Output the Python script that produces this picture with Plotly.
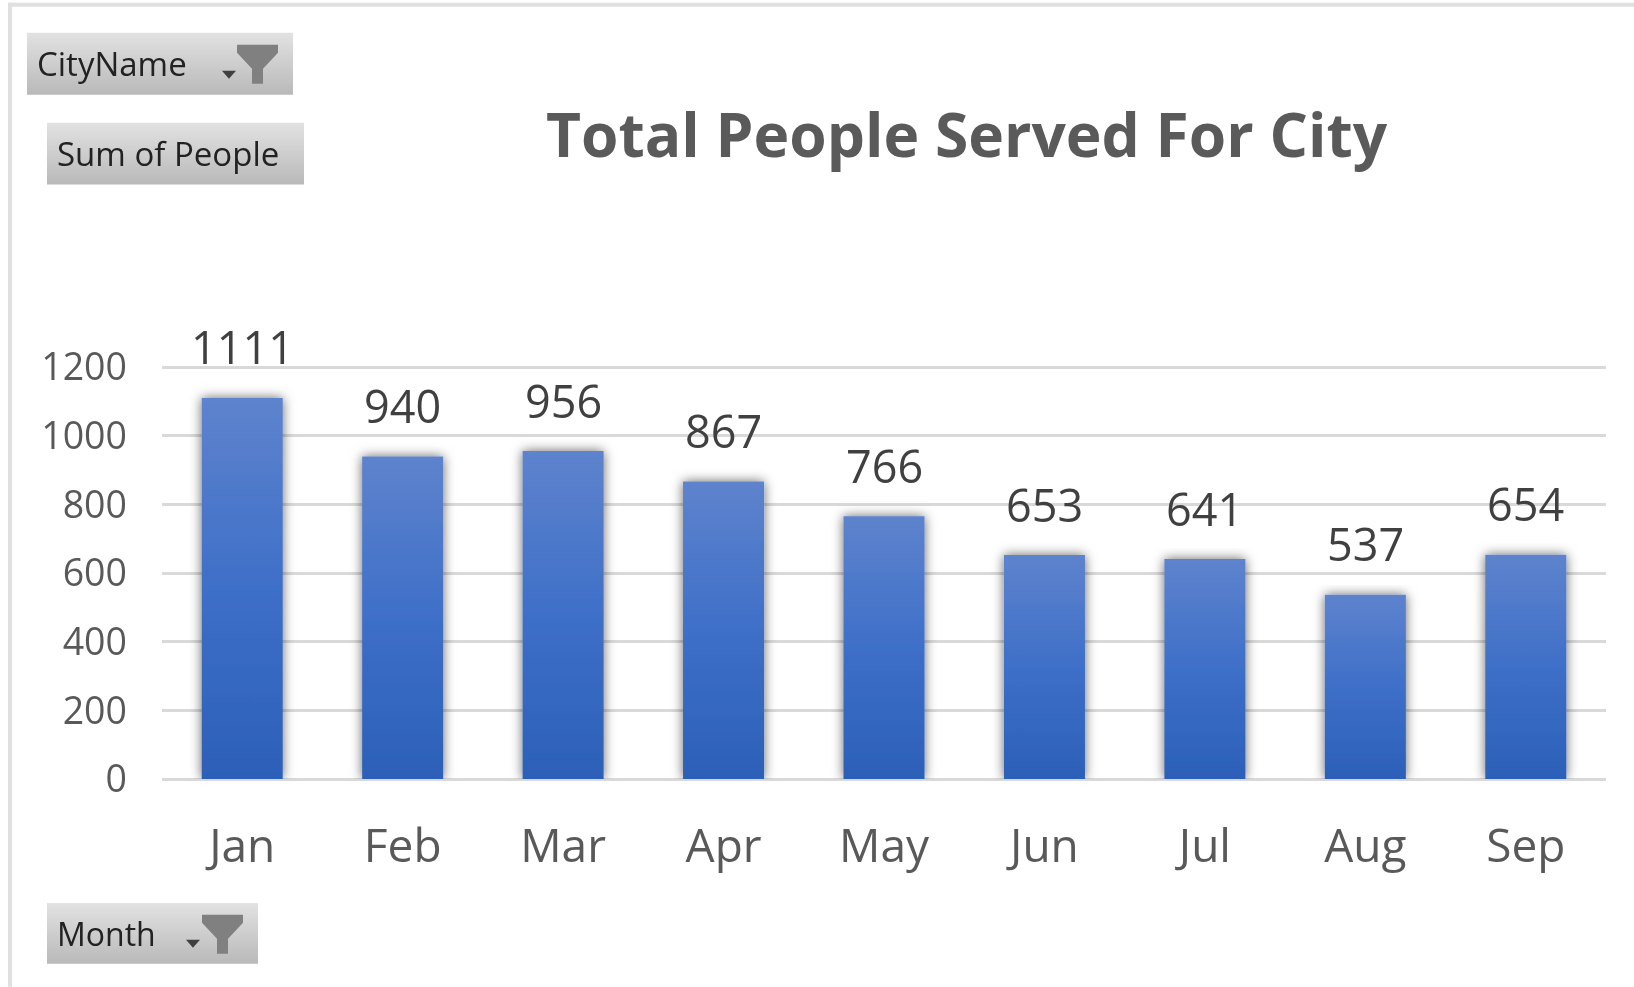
import plotly.graph_objects as go

months = ["Jan", "Feb", "Mar", "Apr", "May", "Jun", "Jul", "Aug", "Sep"]
people = [1111, 940, 956, 867, 766, 653, 641, 537, 654]
title_text = "Total People Served For City"
y_ticks = [0, 200, 400, 600, 800, 1000, 1200]

W, H = 1634, 987
L, R, T, B = 162, 1606, 365.6, 779
FONT = "Open Sans"
GREY = "#595959"


def px(x):
    return (x - L) / (R - L)


def py(y):
    return (B - y) / (B - T)


def path(points):
    return "M" + " L".join(f"{px(x):.5f},{py(y):.5f}" for x, y in points) + " Z"


fig = go.Figure(
    go.Bar(
        x=months,
        y=people,
        width=0.505,
        marker=dict(color="#3e6fc8", line=dict(width=0)),
        hoverinfo="x+y",
    )
)

annotations = [
    dict(
        x=m, y=v, xref="x", yref="y", text=str(v), showarrow=False, yshift=51,
        font=dict(family=FONT, size=45, color="#404040"),
    )
    for m, v in zip(months, people)
]
annotations.append(
    dict(
        x=px(967), y=py(133), xref="paper", yref="paper", yanchor="middle", text=f"<b>{title_text}</b>",
        showarrow=False, font=dict(family=FONT, size=60.5, color="#5a5a5a"),
    )
)

buttons = [("CityName", 27, 293, 32, 94, 35, 33), ("Sum of People", 47, 304, 122, 184, 55, 33), ("Month", 47, 258, 903, 964, 55, 32)]
shapes = []
for label, x0, x1, y0, y1, tx, size in buttons:
    shapes.append(
        dict(type="rect", xref="paper", yref="paper", x0=px(x0), x1=px(x1), y0=py(y0), y1=py(y1),
             fillcolor="#cccccc", line=dict(width=0), layer="above")
    )
    annotations.append(
        dict(x=px(tx), y=py((y0 + y1) / 2), xref="paper", yref="paper", xanchor="left", yanchor="middle",
             text=label, showarrow=False, font=dict(family=FONT, size=size, color="#222222"))
    )


def funnel(x, y):
    return path([(x, y), (x + 41, y), (x + 41, y + 8), (x + 26, y + 24), (x + 26, y + 39),
                 (x + 15, y + 39), (x + 15, y + 24), (x, y + 8)])


for fx, fy in [(237, 44), (202, 915)]:
    shapes.append(dict(type="path", xref="paper", yref="paper", path=funnel(fx, fy),
                       fillcolor="#808080", line=dict(width=0), layer="above"))
for ax, ay in [(222, 70), (186, 940)]:
    shapes.append(dict(type="path", xref="paper", yref="paper",
                       path=path([(ax, ay), (ax + 14, ay), (ax + 7, ay + 8)]),
                       fillcolor="#404040", line=dict(width=0), layer="above"))

# chart frame: left and top edges
shapes.append(dict(type="rect", xref="paper", yref="paper", x0=px(8), x1=px(12), y0=py(2), y1=py(H),
                   fillcolor="#e0e0e0", line=dict(width=0), layer="below"))
shapes.append(dict(type="rect", xref="paper", yref="paper", x0=px(8), x1=px(W), y0=py(2), y1=py(6),
                   fillcolor="#e0e0e0", line=dict(width=0), layer="below"))

fig.update_layout(
    width=W, height=H,
    margin=dict(l=L, r=W - R, t=T, b=H - B, pad=0),
    paper_bgcolor="white", plot_bgcolor="white",
    showlegend=False, annotations=annotations, shapes=shapes,
    font=dict(family=FONT, color=GREY),
    xaxis=dict(showgrid=False, showline=False, ticks="", tickfont=dict(size=46, color=GREY),
               ticklabelstandoff=36, fixedrange=True),
    yaxis=dict(range=[0, 1204], tickvals=y_ticks, showgrid=True, gridcolor="#d9d9d9", gridwidth=3,
               zeroline=True, zerolinecolor="#d9d9d9", zerolinewidth=3, showline=False, ticks="",
               tickfont=dict(size=37.5, color=GREY), ticklabelstandoff=34, fixedrange=True),
)

post = """
document.body.style.margin = '0';
document.body.style.overflow = 'hidden';
var gd = document.getElementById('{plot_id}');
gd.style.filter = 'blur(0.6px)';
var svg = gd.querySelector('svg.main-svg');
var NS = 'http://www.w3.org/2000/svg';
var defs = svg.querySelector('defs');
function grad(id, stops) {
  var g = document.createElementNS(NS, 'linearGradient');
  g.setAttribute('id', id);
  g.setAttribute('x1', '0'); g.setAttribute('y1', '0');
  g.setAttribute('x2', '0'); g.setAttribute('y2', '1');
  stops.forEach(function (s) {
    var e = document.createElementNS(NS, 'stop');
    e.setAttribute('offset', s[0]); e.setAttribute('stop-color', s[1]);
    g.appendChild(e);
  });
  defs.appendChild(g);
}
grad('barGrad', [['0', '#5e83cd'], ['0.5', '#3e6fc8'], ['1', '#2c60b8']]);
grad('btnGrad', [['0', '#e2e2e2'], ['1', '#b9b9b9']]);
var f = document.createElementNS(NS, 'filter');
f.setAttribute('id', 'barShadow');
f.setAttribute('x', '-30%'); f.setAttribute('y', '-5%');
f.setAttribute('width', '160%'); f.setAttribute('height', '105%');
var d = document.createElementNS(NS, 'feDropShadow');
d.setAttribute('dx', '0'); d.setAttribute('dy', '0');
d.setAttribute('stdDeviation', '6'); d.setAttribute('flood-color', '#000');
d.setAttribute('flood-opacity', '0.6');
f.appendChild(d);
defs.appendChild(f);
gd.querySelectorAll('.barlayer .point path').forEach(function (p) {
  p.style.setProperty('fill', 'url(#barGrad)');
  p.setAttribute('filter', 'url(#barShadow)');
});
gd.querySelectorAll('.shapelayer path').forEach(function (p) {
  if (p.style.fill === 'rgb(204, 204, 204)') p.style.setProperty('fill', 'url(#btnGrad)');
});
"""

fig.write_html("out.html", post_script=post, config={"displayModeBar": False})
